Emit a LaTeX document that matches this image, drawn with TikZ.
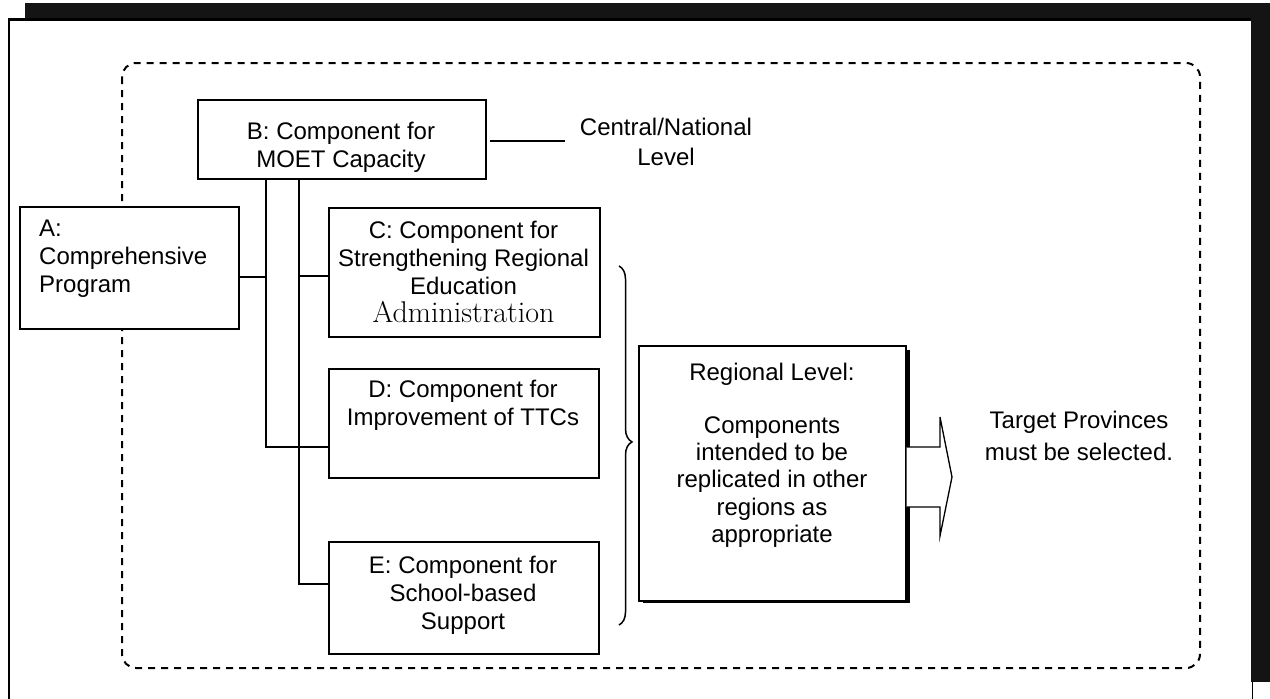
\documentclass[tikz,border=0pt]{standalone}
\usepackage{fontspec}
\newfontfamily\arialfont{Liberation Sans}
\usetikzlibrary{decorations.pathreplacing,calc}

\tikzset{
  box/.style={draw=black, line width=1.6pt, fill=white, inner sep=0pt, anchor=north west},
  txt/.style={font=\arialfont\fontsize{24}{28}\selectfont, align=center, inner sep=0pt},
  conn/.style={line width=1.5pt},
  grouping/.style={line width=2pt, dash pattern=on 7pt off 6pt, rounded corners=14pt},
}

\begin{document}
\begin{tikzpicture}[x=1pt,y=-1pt]
\useasboundingbox (0,0) rectangle (1270,699);

% scanned page frame
\fill[black!92] (25,3) rectangle (1270,20);
\fill[black!92] (1251,3) rectangle (1270,682);
\draw[line width=2.5pt] (9,699) -- (9,19.5) -- (1251,19.5);
\draw[line width=1.5pt] (1252.5,682) -- (1252.5,699);

% dashed programme boundary
\draw[grouping] (122,63) rectangle (1200,668);

% component boxes
\node[box, minimum width=219pt, minimum height=122pt] (A) at (19,206) {};
\node[box, minimum width=288pt, minimum height=79pt]  (B) at (197,99) {};
\node[box, minimum width=271pt, minimum height=129pt] (C) at (328,207) {};
\node[box, minimum width=270pt, minimum height=109pt] (D) at (328,368) {};
\node[box, minimum width=270pt, minimum height=112pt] (E) at (328,541) {};

% regional box with drop shadow
\fill[black] (643,350) rectangle (910,603);
\node[box, minimum width=267pt, minimum height=255pt] (R) at (638,345) {};

% box texts
\node[txt, align=left, anchor=west] (At) at (39,259) {A:\\Comprehensive\\Program};
\node[txt] (Bt) at (341,147) {B: Component for\\MOET Capacity};
\node[txt] (Ct) at (463.5,258) {C: Component for\\Strengthening Regional\\Education};
\node[inner sep=0pt, font=\fontsize{30}{34}\selectfont] (Ca) at (463.5,312) {Administration};
\node[txt] (Dt) at (463,405) {D: Component for\\Improvement of TTCs};
\node[txt] (Et) at (463,595) {E: Component for\\School-based\\Support};
\node[txt] (Rt) at (772,374) {Regional Level:};
\node[txt, font=\arialfont\fontsize{24}{27.2}\selectfont] (Rb) at (772,482)
  {Components\\intended to be\\replicated in other\\regions as\\appropriate};

% level labels
\node[txt, font=\arialfont\fontsize{24}{30}\selectfont] (CN) at (666,142) {Central/National\\Level};
\node[txt, font=\arialfont\fontsize{24}{32}\selectfont] (TP) at (1079,436) {Target Provinces\\must be selected.};

% connectors
\coordinate (j1) at (266,447);
\coordinate (j2) at (299,584);
\coordinate (a1) at (266,277);
\coordinate (c1) at (299,276);
\draw[conn] (B.south -| j1) -- (j1) -- (j1 -| D.west);
\draw[conn] (a1 -| A.east) -- (a1);
\draw[conn] (B.south -| j2) -- (j2) -- (j2 -| E.west);
\draw[conn] (c1) -- (c1 -| C.west);
\coordinate (cn0) at (490,141);
\coordinate (cn1) at (565,141);
\draw[conn] (cn0) -- (cn1);

% brace grouping C, D and E
\draw[line width=1.5pt, decorate, decoration={brace, amplitude=13pt, aspect=0.49}]
  (619,266) -- (619,625);

% block arrow towards target provinces
\draw[line width=1.3pt, fill=white, line join=miter]
  (R.east |- 0,447) -- (940,447) -- (940,417) -- (952,477) -- (940,536) -- (940,507) -- (R.east |- 0,507);
\end{tikzpicture}
\end{document}
